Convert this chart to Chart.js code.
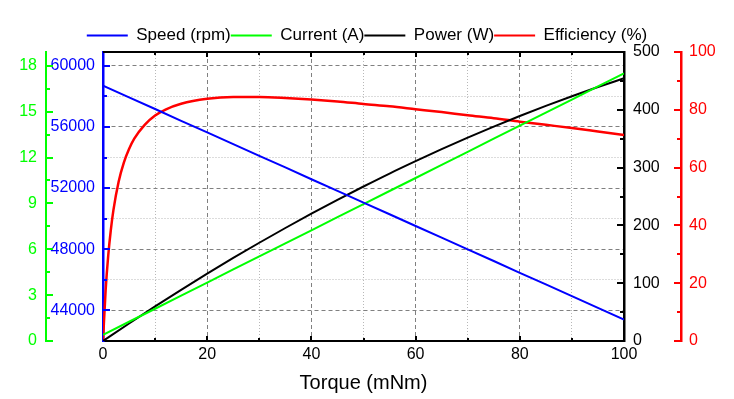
<!doctype html>
<html>

<head>
  <meta charset="utf-8">
  <script src="https://cdn.jsdelivr.net/npm/chart.js@4.4.1/dist/chart.umd.min.js"></script>
  <style>
    html, body { margin: 0; padding: 0; background: #fff; }
  </style>
</head>

<body>
  <canvas id="myChart" width="734" height="399"></canvas>
  <script>
    // values
    const torque = [0, 5, 10, 15, 20, 25, 30, 35, 40, 45, 50, 55, 60, 65, 70, 75, 80, 85, 90, 95, 100];
    const speedRpm = [58700, 57930, 57170, 56400, 55640, 54880, 54110, 53350, 52580, 51820, 51050,
      50290, 49520, 48760, 47990, 47230, 46460, 45700, 44930, 44170, 43400];
    const currentA = [0.40, 1.26, 2.11, 2.97, 3.82, 4.68, 5.53, 6.39, 7.24, 8.10, 8.95,
      9.81, 10.66, 11.52, 12.37, 13.23, 14.08, 14.94, 15.79, 16.65, 17.50];
    const powerW = [0, 30.3, 59.9, 88.6, 116.5, 143.7, 170.0, 195.5, 220.3, 244.2, 267.3,
      289.7, 311.1, 331.9, 351.8, 370.9, 389.2, 406.8, 423.5, 439.4, 454.5];
    // efficiency is read on a finer grid near zero torque where it rises fast
    const effTorque = [0, 0.5, 1, 1.5, 2, 3, 4, 5, 6, 8, 10, 12, 15, 20, 25, 30, 35, 40, 45, 50,
      55, 60, 65, 70, 75, 80, 85, 90, 95, 100];
    const efficiencyPct = [0, 17.4, 29.5, 38.4, 45.3, 55.1, 61.7, 66.4, 70.0, 74.8, 78.0, 80.1, 82.1,
      83.8, 84.4, 84.4, 84.1, 83.6, 82.9, 82.0, 81.2, 80.2, 79.2, 78.1, 77.1, 75.9, 74.8, 73.7, 72.5, 71.3];

    // tick positions (labels only on the major ones)
    const torqueTicks = [0, 10, 20, 30, 40, 50, 60, 70, 80, 90, 100];
    const speedTicks = [44000, 46000, 48000, 50000, 52000, 54000, 56000, 58000, 60000];
    const currentTicks = [0, 1.5, 3, 4.5, 6, 7.5, 9, 10.5, 12, 13.5, 15, 16.5, 18];
    const powerTicks = [0, 50, 100, 150, 200, 250, 300, 350, 400, 450, 500];
    const effTicks = [0, 10, 20, 30, 40, 50, 60, 70, 80, 90, 100];

    const FONT = '"Liberation Sans", Arial, sans-serif';
    const BLUE = '#0000ff', GREEN = '#00ff00', BLACK = '#000000', RED = '#ff0000';

    function setTicks(list) {
      return (scale) => { scale.ticks = list.map(v => ({ value: v })); };
    }
    function isMajor(v, step) {
      return Math.abs(v / step - Math.round(v / step)) < 1e-6;
    }
    function labelEvery(step) {
      return (v) => isMajor(v, step) ? String(v) : '';
    }
    function gridColor(step, lo, hi) {
      return (c) => {
        if (!c.tick || c.tick.value <= lo || c.tick.value >= hi) return 'rgba(0,0,0,0)';
        return isMajor(c.tick.value, step) ? '#808080' : '#b8b8b8';
      };
    }
    function gridDash(step) {
      return (c) => {
        if (!c.tick) return [];
        return isMajor(c.tick.value, step) ? [4, 3] : [1, 2];
      };
    }

    // ticks in this chart point into the plot, chart.js draws them outward, so draw them here
    const inwardTicks = {
      id: 'inward_ticks',
      afterLayout: (chart) => {
        // legend text sits a little lower in the original
        chart.legend.top += 2;
      },
      afterDatasetsDraw: (chart) => {
        const { ctx, chartArea: a, scales } = chart;
        const mark = (x1, y1, x2, y2, color, w) => {
          ctx.strokeStyle = color;
          ctx.lineWidth = w;
          ctx.beginPath();
          ctx.moveTo(x1, y1);
          ctx.lineTo(x2, y2);
          ctx.stroke();
        };
        ctx.save();
        mark(a.left, a.top, a.right + 1, a.top, BLACK, 2);
        scales.x.ticks.forEach(t => {
          if (t.value <= 0 || t.value >= 100) return;
          const px = Math.round(scales.x.getPixelForValue(t.value));
          const len = isMajor(t.value, 20) ? 5 : 3;
          mark(px, a.bottom, px, a.bottom - len, BLACK, 2);
          mark(px, a.top, px, a.top + len, BLACK, 2);
        });
        [['ySpeed', 1, 4000], ['yCur', 1, 3], ['yPow', -1, 100], ['yEff', -1, 20]].forEach(([id, dir, step]) => {
          const s = scales[id];
          const x0 = dir > 0 ? s.right : s.left;
          s.ticks.forEach(t => {
            const py = Math.round(s.getPixelForValue(t.value));
            const len = isMajor(t.value, step) ? 7 : 4;
            mark(x0, py, x0 + dir * len, py, s.options.border.color, 2);
          });
        });
        ctx.restore();
      }
    };

    const tickFont = { family: FONT, size: 16 };

    const myChart = new Chart(document.getElementById('myChart'), {
      type: 'line',
      data: {
        datasets: [{
          label: 'Speed (rpm)',
          data: torque.map((t, i) => ({ x: t, y: speedRpm[i] })),
          yAxisID: 'ySpeed',
          borderColor: BLUE,
          borderWidth: 2
        }, {
          label: 'Current (A)',
          data: torque.map((t, i) => ({ x: t, y: currentA[i] })),
          yAxisID: 'yCur',
          borderColor: GREEN,
          borderWidth: 2
        }, {
          label: 'Power (W)',
          data: torque.map((t, i) => ({ x: t, y: powerW[i] })),
          yAxisID: 'yPow',
          borderColor: BLACK,
          borderWidth: 2,
          cubicInterpolationMode: 'monotone'
        }, {
          label: 'Efficiency (%)',
          data: effTorque.map((t, i) => ({ x: t, y: efficiencyPct[i] })),
          yAxisID: 'yEff',
          borderColor: RED,
          borderWidth: 2.5,
          cubicInterpolationMode: 'monotone'
        }]
      },
      options: {
        responsive: false,
        animation: false,
        devicePixelRatio: 1,
        elements: { point: { radius: 0 } },
        layout: { padding: { top: 25, left: 0, right: 0, bottom: 0 } },
        plugins: {
          tooltip: { enabled: false },
          legend: {
            position: 'top',
            align: 'center',
            labels: {
              boxWidth: 41,
              boxHeight: 2,
              padding: 0,
              color: BLACK,
              font: { family: FONT, size: 17 },
              generateLabels: (chart) => chart.data.datasets.map((d, i) => ({
                text: d.label,
                fillStyle: d.borderColor,
                strokeStyle: d.borderColor,
                lineWidth: 0,
                hidden: false,
                datasetIndex: i
              }))
            }
          }
        },
        scales: {
          x: {
            type: 'linear',
            min: 0,
            max: 100,
            afterBuildTicks: setTicks(torqueTicks),
            afterFit: (s) => { s.height = 58; },
            ticks: { autoSkip: false, maxRotation: 0, padding: 4, color: BLACK, font: tickFont, callback: labelEvery(20) },
            grid: { drawTicks: false, lineWidth: 1, color: gridColor(20, 0, 100) },
            border: { color: BLACK, width: 2, dash: gridDash(20) },
            title: { display: true, text: 'Torque (mNm)', color: BLACK, font: { family: FONT, size: 20 }, padding: { top: 0, bottom: 4 } }
          },
          ySpeed: {
            type: 'linear',
            position: 'left',
            weight: 0,
            min: 42000,
            max: 60900,
            afterBuildTicks: setTicks(speedTicks),
            afterFit: (s) => { s.width = 57; },
            ticks: { autoSkip: false, padding: 8, color: BLUE, font: tickFont, callback: labelEvery(4000) },
            grid: { drawTicks: false, lineWidth: 1, color: gridColor(4000, 42000, 60900) },
            border: { color: BLUE, width: 2.5, dash: gridDash(4000) }
          },
          yCur: {
            type: 'linear',
            position: 'left',
            weight: 1,
            min: 0,
            max: 18.9,
            afterBuildTicks: setTicks(currentTicks),
            afterFit: (s) => { s.width = 46; },
            ticks: { autoSkip: false, padding: 9, color: GREEN, font: tickFont, callback: labelEvery(3) },
            grid: { drawTicks: false, drawOnChartArea: false },
            border: { color: GREEN, width: 2 }
          },
          yPow: {
            type: 'linear',
            position: 'right',
            weight: 0,
            min: 0,
            max: 500,
            afterBuildTicks: setTicks(powerTicks),
            afterFit: (s) => { s.width = 57; },
            ticks: { autoSkip: false, padding: 9, color: BLACK, font: tickFont, callback: labelEvery(100) },
            grid: { drawTicks: false, drawOnChartArea: false },
            border: { color: BLACK, width: 2.5 }
          },
          yEff: {
            type: 'linear',
            position: 'right',
            weight: 1,
            min: 0,
            max: 100,
            afterBuildTicks: setTicks(effTicks),
            afterFit: (s) => { s.width = 53; },
            ticks: { autoSkip: false, padding: 8, color: RED, font: tickFont, callback: labelEvery(20) },
            grid: { drawTicks: false, drawOnChartArea: false },
            border: { color: RED, width: 2.5 }
          }
        }
      },
      plugins: [inwardTicks]
    });
  </script>
</body>

</html>
